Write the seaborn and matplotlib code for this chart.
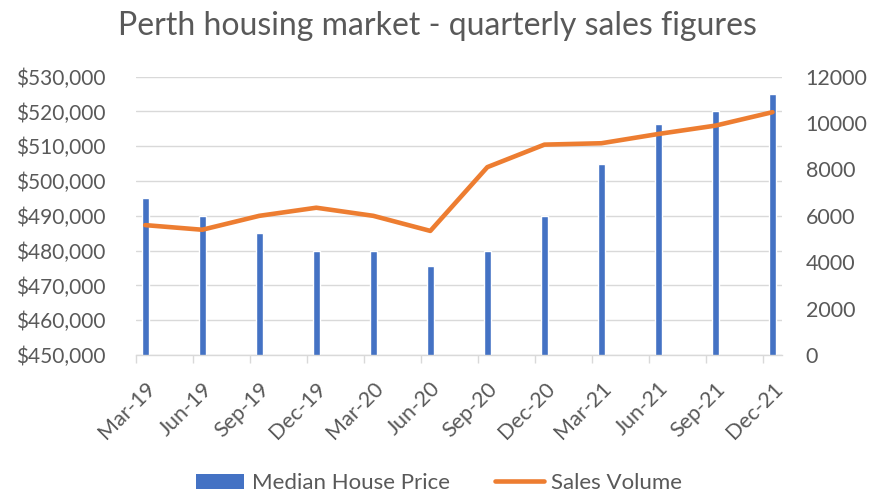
import numpy as np
import pandas as pd
import matplotlib
matplotlib.use("Agg")
import matplotlib.pyplot as plt
import seaborn as sns
from matplotlib.ticker import FuncFormatter, FixedLocator
from matplotlib.patches import Patch
from matplotlib.lines import Line2D

quarters = ["Mar-19", "Jun-19", "Sep-19", "Dec-19", "Mar-20", "Jun-20",
            "Sep-20", "Dec-20", "Mar-21", "Jun-21", "Sep-21", "Dec-21"]
median_price = [495000, 490000, 485000, 480000, 480000, 475500,
                480000, 490000, 505000, 516500, 520000, 525000]
sales_volume = [5600, 5400, 6000, 6350, 6000, 5350,
                8100, 9070, 9130, 9530, 9890, 10470]

sns.set_theme(style="white")
plt.rcParams['font.family'] = ['Lato', 'DejaVu Sans']
TXT = "#595959"
BLUE = "#4472C4"
ORANGE = "#ED7D31"
GRID = "#D9D9D9"

df = pd.DataFrame({"quarter": quarters, "price": median_price, "volume": sales_volume})
pos = np.arange(len(quarters))

fig = plt.figure(figsize=(8.71, 4.96), dpi=100)
ax = fig.add_axes([0.1558, 0.2843, 0.8978 - 0.1558, 0.8454 - 0.2843])

sns.barplot(data=df, x="quarter", y="price", color=BLUE, width=0.123,
            saturation=1, ax=ax, zorder=2)
ax.set_ylim(450000, 530000)
ax.set_yticks(np.arange(450000, 530001, 10000))
ax.yaxis.set_major_formatter(FuncFormatter(lambda v, p: f"${v:,.0f}"))
ax.set_xlim(-1/6, len(quarters) - 1 + 1/6)
ax.grid(axis="y", color=GRID, linewidth=1.0, zorder=0)
ax.set_axisbelow(True)
ax.set_xlabel("")
ax.set_ylabel("")
for s in ["left", "right", "top"]:
    ax.spines[s].set_visible(False)
ax.spines["bottom"].set_color(GRID)
ax.spines["bottom"].set_linewidth(1.0)
ax.spines["bottom"].set_zorder(3)

ax.set_xticks(pos)
ax.set_xticklabels(quarters, rotation=45, ha="right", rotation_mode="anchor")
ax.xaxis.set_minor_locator(FixedLocator(pos - 1/6))
ax.tick_params(axis="x", which="major", length=0, pad=17, labelsize=15.5, labelcolor=TXT)
ax.tick_params(axis="x", which="minor", length=6, width=1, color=GRID, direction="out", bottom=True)
ax.tick_params(axis="y", length=0, labelsize=15, labelcolor=TXT, pad=22)

ax2 = ax.twinx()
sns.lineplot(x=pos, y=sales_volume, ax=ax2, color=ORANGE, linewidth=3.3,
             sort=False, solid_capstyle="round", solid_joinstyle="round")
ax2.set_ylim(0, 12000)
ax2.set_yticks(np.arange(0, 12001, 2000))
ax2.tick_params(axis="y", length=0, labelsize=15.5, labelcolor=TXT, pad=17)
for s in ["left", "right", "top", "bottom"]:
    ax2.spines[s].set_visible(False)
ax2.grid(False)
ax2.set_ylabel("")

fig.suptitle("Perth housing market - quarterly sales figures", x=0.502, y=0.978,
             fontsize=23, color=TXT, va="top")

handles = [Patch(facecolor=BLUE, edgecolor="none", label="Median House Price"),
           Line2D([0], [0], color=ORANGE, linewidth=3.3, label="Sales Volume")]
fig.legend(handles=handles, loc="center", bbox_to_anchor=(0.504, 0.026), ncol=2,
           frameon=False, fontsize=16, labelcolor=TXT, handlelength=2.2,
           handleheight=0.7, columnspacing=2.0, handletextpad=0.35)

fig.savefig("out.png", dpi=100)
